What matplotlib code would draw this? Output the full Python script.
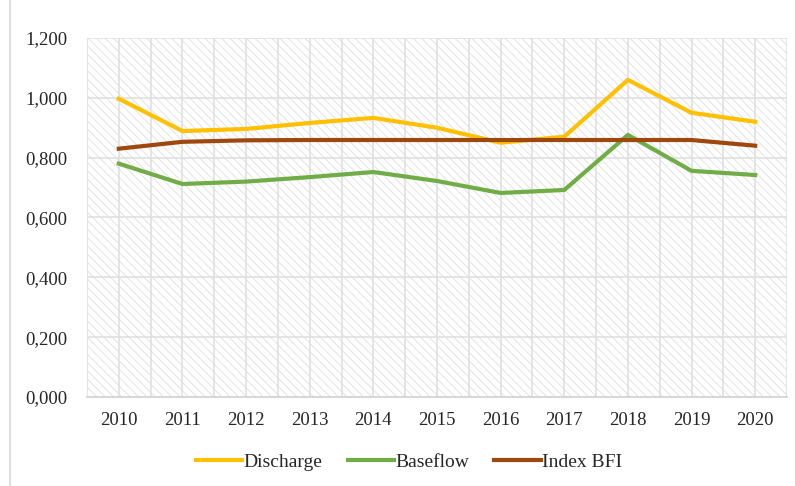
import numpy as np
import matplotlib.pyplot as plt
from matplotlib.lines import Line2D

years = ['2010', '2011', '2012', '2013', '2014', '2015',
         '2016', '2017', '2018', '2019', '2020']
discharge = [0.997, 0.889, 0.896, 0.916, 0.933, 0.900,
             0.850, 0.870, 1.060, 0.950, 0.920]
baseflow = [0.780, 0.712, 0.720, 0.735, 0.752, 0.722,
            0.682, 0.692, 0.876, 0.756, 0.742]
bfi = [0.830, 0.853, 0.858, 0.859, 0.859, 0.859,
       0.859, 0.859, 0.859, 0.859, 0.840]

plt.rcParams['font.family'] = ['Liberation Serif', 'DejaVu Serif']
plt.rcParams['hatch.color'] = '#e3e3e3'
plt.rcParams['hatch.linewidth'] = 0.7

fig = plt.figure(figsize=(7.95, 4.86), dpi=100)
ax = fig.add_axes([87 / 795, 1 - 397 / 486, 700 / 795, 359 / 486])

ind = np.arange(len(years))

ax.patch.set_facecolor('white')
ax.patch.set_hatch('\\\\\\\\')
ax.patch.set_edgecolor('#e3e3e3')

# grid lines at categories and between them
for gx in np.arange(-0.5, len(years), 0.5):
    ax.axvline(gx, color='#e0e0e0', lw=1.2, zorder=1)
for gy in np.arange(0.2, 1.21, 0.2):
    ax.axhline(gy, color='#e0e0e0', lw=1.2, zorder=1)

ax.plot(ind, discharge, color='#FFC000', lw=3, label='Discharge', zorder=3)
ax.plot(ind, baseflow, color='#70AD47', lw=3, label='Baseflow', zorder=3)
ax.plot(ind, bfi, color='#9E480E', lw=3, label='Index BFI', zorder=4)

ax.set_xlim(-0.5, len(years) - 0.5)
ax.set_ylim(0, 1.2)
ax.set_xticks(ind)
ax.set_xticklabels(years)
yt = np.arange(0, 1.21, 0.2)
ax.set_yticks(yt)
ax.set_yticklabels(['{0:.3f}'.format(v).replace('.', ',') for v in yt])
ax.tick_params(length=0, labelsize=13.5, colors='#262626')
ax.tick_params(axis='x', pad=11)
ax.tick_params(axis='y', pad=14)

for s in ['top', 'right', 'left']:
    ax.spines[s].set_visible(False)
ax.spines['bottom'].set_color('#d0d0d0')
ax.spines['bottom'].set_linewidth(1.2)

ax.legend(loc='center', bbox_to_anchor=(409 / 795, 1 - 462 / 486),
          bbox_transform=fig.transFigure, ncol=3,
          frameon=False, fontsize=14, handlelength=2.4, handletextpad=0.05,
          columnspacing=1.3, labelcolor='#262626')

fig.add_artist(Line2D([10 / 795, 10 / 795], [0, 1], color='#d9d9d9', lw=1.2))

plt.savefig('out.png')
plt.close(fig)
